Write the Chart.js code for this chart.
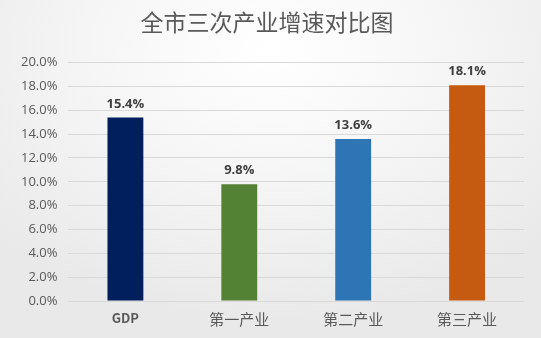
<!DOCTYPE html>
<html>
<head>
<meta charset="utf-8">
<script src="https://cdn.jsdelivr.net/npm/chart.js@4.4.1/dist/chart.umd.min.js"></script>
<style>
    html, body {
        margin: 0;
        padding: 0;
        width: 541px;
        height: 338px;
        overflow: hidden;
    }
    body {
        background: radial-gradient(ellipse 70% 80% at 50% 15%, #ffffff 0%, #f6f6f6 45%, #e9e9e9 100%);
    }
    #wrap {
        position: relative;
        width: 541px;
        height: 338px;
    }
</style>
</head>
<body>
<div id="wrap"><canvas id="growthChart"></canvas></div>
<script>
// 全市三次产业增速
const categories = ['GDP', '第一产业', '第二产业', '第三产业']
const growthRates = [15.4, 9.8, 13.6, 18.1]
const barColors = ['#001F5C', '#548235', '#2E75B6', '#C55A11']
const yTicks = [0, 2, 4, 6, 8, 10, 12, 14, 16, 18, 20]

// value labels above each bar
const barValueLabels = {
    id: 'barValueLabels',
    afterDatasetsDraw(chart) {
        const ctx = chart.ctx
        const meta = chart.getDatasetMeta(0)
        ctx.save()
        ctx.font = 'bold 13px "Open Sans", "DejaVu Sans", sans-serif'
        ctx.fillStyle = '#404040'
        ctx.textAlign = 'center'
        ctx.textBaseline = 'bottom'
        meta.data.forEach((bar, i) => {
            ctx.fillText(growthRates[i].toFixed(1) + '%', bar.x, bar.y - 7)
        })
        ctx.restore()
    }
}

new Chart(document.getElementById('growthChart'), {
    type: 'bar',
    data: {
        labels: categories,
        datasets: [{
            data: growthRates,
            backgroundColor: barColors,
            borderWidth: 0,
            categoryPercentage: 1,
            barPercentage: 0.315
        }]
    },
    options: {
        responsive: true,
        maintainAspectRatio: false,
        animation: false,
        layout: {
            padding: { left: 10, right: 17, bottom: 9 }
        },
        plugins: {
            legend: { display: false },
            tooltip: { enabled: false },
            title: {
                display: true,
                text: '全市三次产业增速对比图',
                color: '#595959',
                font: { size: 23, family: '"Noto Sans CJK SC", sans-serif', weight: 'normal' },
                padding: { top: 8, bottom: 27 }
            }
        },
        scales: {
            x: {
                grid: { display: false },
                border: { display: false },
                ticks: {
                    color: '#595959',
                    padding: 1,
                    font: (c) => ({
                        size: c.index === 0 ? 13 : 15,
                        weight: c.index === 0 ? 'bold' : 'normal',
                        family: '"Noto Sans CJK SC", "Open Sans", sans-serif'
                    })
                }
            },
            y: {
                min: 0,
                max: 20,
                afterBuildTicks: (axis) => {
                    axis.ticks = yTicks.map(v => ({ value: v }))
                },
                grid: { color: '#d9d9d9', lineWidth: 1, drawTicks: false },
                border: { display: false },
                ticks: {
                    color: '#595959',
                    padding: 11,
                    font: { size: 13, family: '"Open Sans", "DejaVu Sans", sans-serif' },
                    callback: (v) => Number(v).toFixed(1) + '%'
                }
            }
        }
    },
    plugins: [barValueLabels]
})
</script>
</body>
</html>
